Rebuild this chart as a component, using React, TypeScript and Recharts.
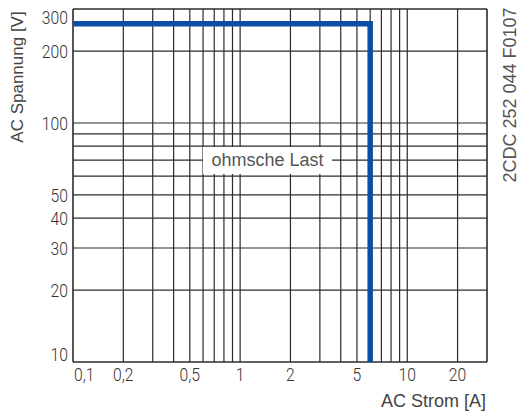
import { LineChart, Line, XAxis, YAxis, ReferenceLine } from "recharts";

// Grenzkurve ohmsche Last: AC Strom [A] gegen AC Spannung [V], log-log
const limitCurve = [
  { strom: 0.1, spannung: 260 },
  { strom: 6, spannung: 260 },
  { strom: 6, spannung: 10 },
];

const xTicks = [0.1, 0.2, 0.5, 1, 2, 5, 10, 20];
const yTicks = [10, 20, 30, 40, 50, 100, 200, 300];
const xGrid = [0.1, 0.2, 0.3, 0.4, 0.5, 0.6, 0.7, 0.8, 0.9, 1, 2, 3, 4, 5, 6, 7, 8, 9, 10, 20, 30];
const yGrid = [10, 20, 30, 40, 50, 60, 70, 80, 90, 100, 200, 300];

const SANS = "'Liberation Sans', Arial, sans-serif";
const TICKFONT = "Roboto, 'Liberation Sans', sans-serif";
const GRID = "#2b2b2b";
const BLUE = "#0a4fa3";
const SQUEEZE = 0.85; // condensed look of the tick digits

const fmt = (v: number) => String(v).replace(".", ",");

function XTick({ x, y, payload }: any) {
  const first = payload.value === 0.1;
  const tx = first ? x + 1 : x;
  return (
    <text
      transform={`translate(${tx},${y + 19}) scale(${SQUEEZE},1)`}
      textAnchor={first ? "start" : "middle"}
      fontSize={18.5}
      fontWeight={300}
      fontFamily={TICKFONT}
      fill="#333"
    >
      {fmt(payload.value)}
    </text>
  );
}

function YTick({ x, y, payload }: any) {
  let shift = 0;
  if (payload.value === 300) shift = 8;
  if (payload.value === 10) shift = -7.5;
  return (
    <text
      transform={`translate(${x},${y + shift + 6.6}) scale(${SQUEEZE},1)`}
      textAnchor="end"
      fontSize={18.5}
      fontWeight={300}
      fontFamily={TICKFONT}
      fill="#333"
    >
      {fmt(payload.value)}
    </text>
  );
}

export default function App() {
  return (
    <div style={{ position: "fixed", left: 0, top: 0, width: 522, height: 414, background: "#fff" }}>
      <LineChart width={522} height={414} data={limitCurve} margin={{ top: 9, right: 35, bottom: 22, left: 13 }}>
        <XAxis
          dataKey="strom"
          type="number"
          scale="log"
          domain={[0.1, 30]}
          allowDataOverflow
          ticks={xTicks}
          interval={0}
          axisLine={false}
          tickLine={false}
          tickSize={0}
          tickMargin={0}
          height={30}
          tick={<XTick />}
        />
        <YAxis
          type="number"
          scale="log"
          domain={[10, 300]}
          allowDataOverflow
          ticks={yTicks}
          interval={0}
          axisLine={false}
          tickLine={false}
          tickSize={0}
          tickMargin={5}
          width={60}
          tick={<YTick />}
        />
        {xGrid.map((v) => (
          <ReferenceLine key={"x" + v} x={v} stroke={GRID} strokeWidth={v === 0.1 || v === 30 ? 1.6 : 1.2} />
        ))}
        {yGrid.map((v) => (
          <ReferenceLine key={"y" + v} y={v} stroke={GRID} strokeWidth={v === 10 || v === 300 ? 1.6 : 1.2} />
        ))}
        <Line
          type="linear"
          dataKey="spannung"
          stroke={BLUE}
          strokeWidth={5.5}
          strokeLinejoin="miter"
          dot={false}
          activeDot={false}
          isAnimationActive={false}
        />
      </LineChart>
      <div
        style={{
          position: "absolute",
          left: 203,
          top: 147,
          width: 129,
          height: 27,
          background: "#fff",
          color: "#555",
          fontFamily: SANS,
          fontSize: 18,
          lineHeight: "27px",
          textAlign: "center",
        }}
      >
        ohmsche Last
      </div>
      <svg width={522} height={414} style={{ position: "absolute", left: 0, top: 0, pointerEvents: "none" }}>
        <text
          x={17}
          y={77}
          transform="rotate(-90 17 77)"
          textAnchor="middle"
          dominantBaseline="central"
          fontSize={17}
          fontFamily={SANS}
          fill="#444"
        >
          AC Spannung [V]
        </text>
        <text x={486} y={407} textAnchor="end" fontSize={18} fontFamily={SANS} fill="#444">
          AC Strom [A]
        </text>
        <text
          x={510}
          y={95}
          transform="rotate(-90 510 95)"
          textAnchor="middle"
          dominantBaseline="central"
          fontSize={18}
          fontFamily={SANS}
          fill="#555"
        >
          2CDC 252 044 F0107
        </text>
      </svg>
    </div>
  );
}
